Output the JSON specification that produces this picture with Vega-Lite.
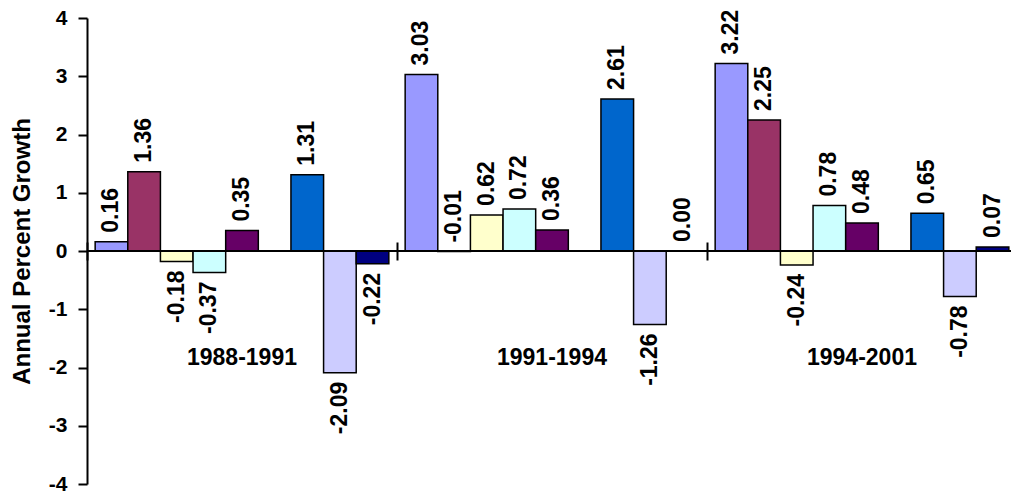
{
  "$schema": "https://vega.github.io/schema/vega-lite/v6.json",
  "autosize": "none",
  "width": 930,
  "height": 466,
  "padding": {"left": 87, "top": 18, "right": 0, "bottom": 9},
  "background": "white",
  "config": {
    "view": {"stroke": null},
    "font": "Liberation Sans",
    "locale": {"number": {"decimal": ".", "thousands": ",", "grouping": [3], "currency": ["$", ""], "minus": "-"}}
  },
  "data": {
    "values": [
      {"period": "1988-1991", "series": "S1", "value": 0.16},
      {"period": "1988-1991", "series": "S2", "value": 1.36},
      {"period": "1988-1991", "series": "S3", "value": -0.18},
      {"period": "1988-1991", "series": "S4", "value": -0.37},
      {"period": "1988-1991", "series": "S5", "value": 0.35},
      {"period": "1988-1991", "series": "S7", "value": 1.31},
      {"period": "1988-1991", "series": "S8", "value": -2.09},
      {"period": "1988-1991", "series": "S9", "value": -0.22},
      {"period": "1991-1994", "series": "S1", "value": 3.03},
      {"period": "1991-1994", "series": "S2", "value": -0.01},
      {"period": "1991-1994", "series": "S3", "value": 0.62},
      {"period": "1991-1994", "series": "S4", "value": 0.72},
      {"period": "1991-1994", "series": "S5", "value": 0.36},
      {"period": "1991-1994", "series": "S7", "value": 2.61},
      {"period": "1991-1994", "series": "S8", "value": -1.26},
      {"period": "1991-1994", "series": "S9", "value": 0.0},
      {"period": "1994-2001", "series": "S1", "value": 3.22},
      {"period": "1994-2001", "series": "S2", "value": 2.25},
      {"period": "1994-2001", "series": "S3", "value": -0.24},
      {"period": "1994-2001", "series": "S4", "value": 0.78},
      {"period": "1994-2001", "series": "S5", "value": 0.48},
      {"period": "1994-2001", "series": "S7", "value": 0.65},
      {"period": "1994-2001", "series": "S8", "value": -0.78},
      {"period": "1994-2001", "series": "S9", "value": 0.07}
    ]
  },
  "layer": [
    {
      "mark": {"type": "bar", "stroke": "black", "strokeWidth": 1.5},
      "encoding": {
        "x": {
          "field": "period", "type": "nominal", "sort": null,
          "scale": {"paddingInner": 0, "paddingOuter": 0},
          "axis": {"title": null, "labels": false, "domain": false, "ticks": true, "tickBand": "extent", "tickSize": 18, "tickColor": "black", "tickWidth": 2, "offset": -242, "orient": "bottom"}
        },
        "xOffset": {
          "field": "series", "type": "nominal",
          "scale": {"domain": ["S1", "S2", "S3", "S4", "S5", "S6", "S7", "S8", "S9"], "paddingInner": 0, "paddingOuter": 0.25}
        },
        "y": {
          "field": "value", "type": "quantitative",
          "scale": {"domain": [-4, 4], "nice": false, "zero": true},
          "axis": {
            "title": "Annual Percent Growth", "titleFontSize": 24, "titleFontWeight": "bold", "titleColor": "black", "titleFont": "Liberation Sans", "titlePadding": 14,
            "values": [-4, -3, -2, -1, 0, 1, 2, 3, 4], "format": "d",
            "labelFontSize": 21, "labelFontWeight": "bold", "labelColor": "black", "labelFont": "Liberation Sans", "labelPadding": 11,
            "tickSize": 9, "tickColor": "black", "tickWidth": 2, "domainColor": "black", "domainWidth": 2, "grid": false
          }
        },
        "color": {
          "field": "series", "type": "nominal",
          "scale": {"domain": ["S1", "S2", "S3", "S4", "S5", "S6", "S7", "S8", "S9"], "range": ["#9999FF", "#993366", "#FFFFCC", "#CCFFFF", "#660066", "#FF8080", "#0066CC", "#CCCCFF", "#000080"]},
          "legend": null
        }
      }
    },
    {
      "data": {"values": [{}]},
      "mark": {"type": "rule", "color": "black", "strokeWidth": 2},
      "encoding": {"y": {"datum": 0}}
    },
    {
      "transform": [{"filter": "datum.value > -0.05"}],
      "mark": {"type": "text", "angle": 270, "align": "left", "baseline": "middle", "dx": 9, "fontSize": 23, "fontWeight": "bold", "font": "Liberation Sans", "color": "black"},
      "encoding": {
        "x": {"field": "period", "type": "nominal", "sort": null},
        "xOffset": {"field": "series", "type": "nominal"},
        "y": {"field": "value", "type": "quantitative"},
        "text": {"field": "value", "type": "quantitative", "format": ".2f"}
      }
    },
    {
      "transform": [{"filter": "datum.value <= -0.05"}],
      "mark": {"type": "text", "angle": 270, "align": "right", "baseline": "middle", "dx": -9, "fontSize": 23, "fontWeight": "bold", "font": "Liberation Sans", "color": "black"},
      "encoding": {
        "x": {"field": "period", "type": "nominal", "sort": null},
        "xOffset": {"field": "series", "type": "nominal"},
        "y": {"field": "value", "type": "quantitative"},
        "text": {"field": "value", "type": "quantitative", "format": ".2f"}
      }
    },
    {
      "data": {"values": [{"period": "1988-1991"}, {"period": "1991-1994"}, {"period": "1994-2001"}]},
      "mark": {"type": "text", "align": "center", "baseline": "middle", "fontSize": 23, "fontWeight": "bold", "font": "Liberation Sans", "color": "black"},
      "encoding": {
        "x": {"field": "period", "type": "nominal", "sort": null},
        "y": {"datum": -1.83},
        "text": {"field": "period", "type": "nominal"}
      }
    }
  ]
}
